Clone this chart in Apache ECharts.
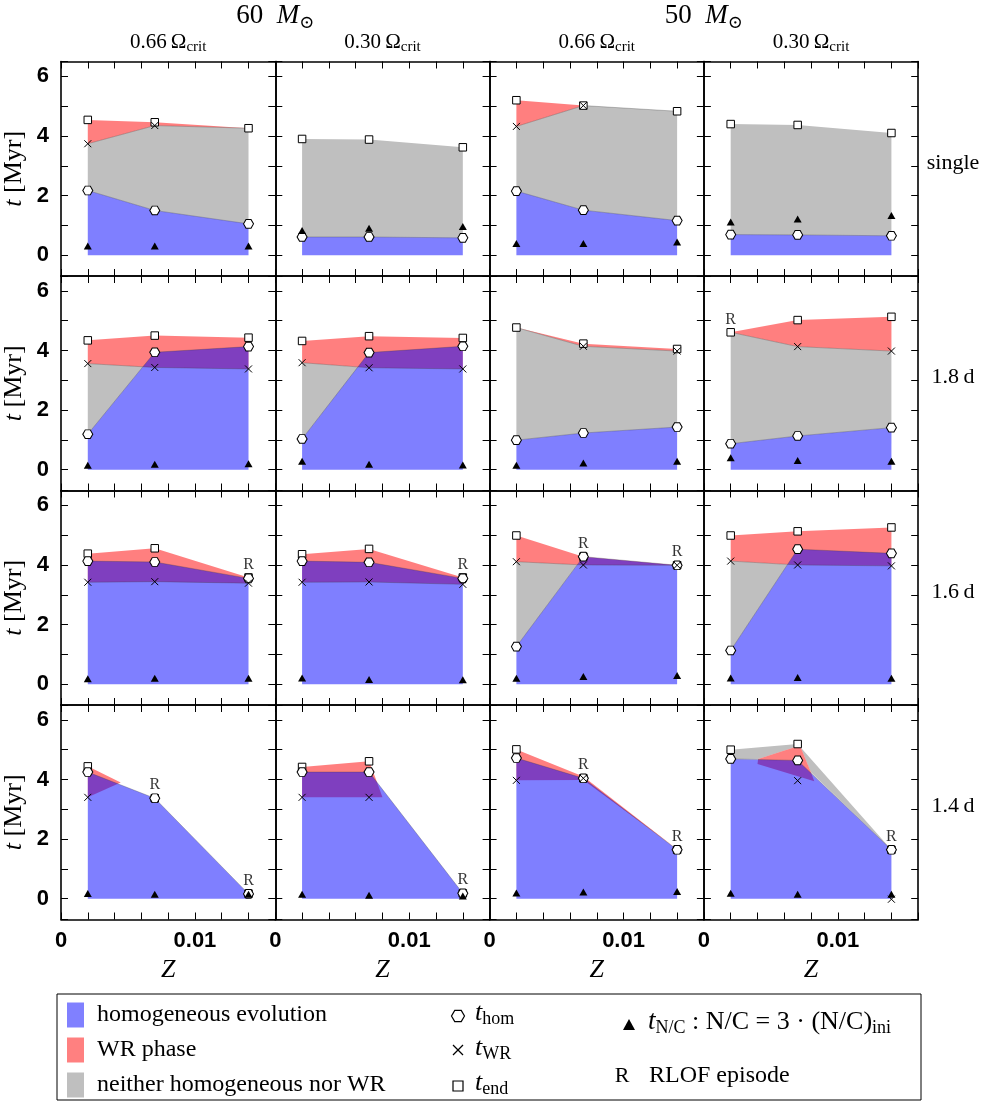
<!DOCTYPE html>
<html>
<head>
<meta charset="utf-8">
<script src="https://cdn.jsdelivr.net/npm/echarts@6/dist/echarts.min.js"></script>
<style>
html, body { margin: 0; padding: 0; background: #fff; }
#chart { width: 981px; height: 1105px; }
</style>
</head>
<body>
<div id="chart"></div>
<script>
// metallicities of the models
var zValues = [0.002, 0.007, 0.014];
var rowLabels = ['single', '1.8\u2009d', '1.6\u2009d', '1.4\u2009d'];
var massLabels = ['60', '50'];
var omegaLabels = ['0.66', '0.30', '0.66', '0.30'];

// [row][col][Z]  rows: single, 1.8d, 1.6d, 1.4d ; cols: 60/0.66, 60/0.30, 50/0.66, 50/0.30
var tHom = [
  [[2.17, 1.50, 1.05], [0.61, 0.61, 0.58], [2.15, 1.51, 1.16], [0.69, 0.68, 0.65]],
  [[1.19, 3.94, 4.13], [1.03, 3.93, 4.14], [0.99, 1.23, 1.43], [0.87, 1.13, 1.41]],
  [[4.13, 4.10, 3.55], [4.13, 4.09, 3.55], [1.26, 4.28, 3.99], [1.13, 4.53, 4.39]],
  [[4.25, 3.37, 0.16], [4.25, 4.25, 0.18], [4.72, 4.04, 1.64], [4.69, 4.64, 1.64]]
];
var tWR = [
  [[3.74, 4.35, null], [null, null, null], [4.32, 5.02, null], [null, null, null]],
  [[3.56, 3.43, 3.38], [3.59, 3.42, 3.38], [null, 4.14, 3.98], [null, 4.13, 3.98]],
  [[3.42, 3.44, 3.39], [3.42, 3.43, 3.35], [4.11, 4.00, 3.99], [4.13, 4.00, 3.97]],
  [[3.40, null, null], [3.40, 3.40, null], [3.97, 4.04, null], [null, 3.96, -0.02]]
];
var tEnd = [
  [[4.54, 4.46, 4.26], [3.90, 3.88, 3.62], [5.20, 5.02, 4.83], [4.40, 4.37, 4.10]],
  [[4.34, 4.50, 4.43], [4.32, 4.48, 4.42], [4.77, 4.23, 4.05], [4.61, 5.02, 5.13]],
  [[4.38, 4.56, 3.58], [4.36, 4.54, 3.58], [4.99, 4.28, 3.99], [4.99, 5.13, 5.26]],
  [[4.44, 3.37, 0.17], [4.42, 4.61, 0.18], [5.01, 4.04, 1.64], [5.00, 5.19, 1.64]]
];
var tNC = [
  [[0.31, 0.31, 0.31], [0.83, 0.90, 0.96], [0.39, 0.39, 0.44], [1.11, 1.21, 1.33]],
  [[0.15, 0.18, 0.20], [0.28, 0.18, 0.16], [0.15, 0.22, 0.28], [0.40, 0.31, 0.28]],
  [[0.18, 0.20, 0.20], [0.21, 0.16, 0.15], [0.20, 0.26, 0.29], [0.21, 0.22, 0.20]],
  [[0.17, 0.15, 0.15], [0.15, 0.11, 0.09], [0.19, 0.22, 0.24], [0.18, 0.15, 0.15]]
];
var rlof = [
  [[0, 0, 0], [0, 0, 0], [0, 0, 0], [0, 0, 0]],
  [[0, 0, 0], [0, 0, 0], [0, 0, 0], [1, 0, 0]],
  [[0, 0, 1], [0, 0, 1], [0, 1, 1], [0, 0, 0]],
  [[0, 1, 1], [0, 0, 1], [0, 1, 1], [0, 0, 1]]
];
// 1.4 d row: outlines of the WR phase and of the "neither" area, [Z, t]
var wrShapeRow4 = [
  [[0.002, 3.40], [0.002, 4.44], [0.00446, 3.90]],
  [[0.002, 3.40], [0.002, 4.42], [0.007, 4.61], [0.00754, 3.97], [0.008, 3.40]],
  [[0.002, 3.97], [0.002, 5.01], [0.007, 4.10], [0.014, 1.66], [0.007, 3.98]],
  [[0.00405, 4.69], [0.00717, 5.14], [0.00799, 4.24], [0.00824, 3.94], [0.0040, 4.52]]
];
var grayShapeRow4 = [null, null, null,
  [[0.002, 4.69], [0.002, 5.00], [0.007, 5.19], [0.014, 1.64], [0.00799, 4.24], [0.00717, 5.14], [0.00405, 4.685]]
];

var SERIF = 'Liberation Serif, DejaVu Serif, serif';
var SANS = 'Liberation Sans, Arial, sans-serif';
var HEX = 'path://M0,43.3L25,0L75,0L100,43.3L75,86.6L25,86.6Z';
var CROSS = 'path://M0,0L10,10M10,0L0,10';

var L0 = 61, T0 = 61.5, W = 214.3, H = 214.5;

// area between two lines (lower below upper), split where they cross
function betweenLines(lower, upper) {
  var top = [], bot = [];
  for (var i = 0; i < zValues.length; i++) {
    top.push([zValues[i], upper[i]]);
    bot.push([zValues[i], Math.min(lower[i], upper[i])]);
    if (i < zValues.length - 1) {
      var d0 = upper[i] - lower[i], d1 = upper[i + 1] - lower[i + 1];
      if (d0 * d1 < 0) {
        var f = d0 / (d0 - d1);
        var z = zValues[i] + f * (zValues[i + 1] - zValues[i]);
        var y = upper[i] + f * (upper[i + 1] - upper[i]);
        top.push([z, y]);
        bot.push([z, y]);
      }
    }
  }
  return top.concat(bot.reverse());
}

function shadeItem(r, c) {
  return function (params, api) {
    var hom = tHom[r][c], end = tEnd[r][c], wr = tWR[r][c];
    var low = zValues.map(function (z, i) { return wr[i] == null ? end[i] : Math.min(wr[i], end[i]); });
    var band, gray;
    if (r === 3) {
      band = wrShapeRow4[c];
      gray = grayShapeRow4[c];
    } else {
      band = zValues.map(function (z, i) { return [z, end[i]]; })
        .concat(zValues.map(function (z, i) { return [z, low[i]]; }).reverse());
      gray = betweenLines(hom, low);
    }
    var blueTop = zValues.map(function (z, i) { return [z, hom[i]]; });
    var blue = [[zValues[0], 0]].concat(blueTop, [[zValues[2], 0]]);
    var px = function (pts) { return pts.map(function (v) { return api.coord(v); }); };
    var edge = { stroke: 'rgba(60,60,60,0.5)', lineWidth: 0.6, fill: null };
    var kids = [];
    if (gray) kids.push({ type: 'polygon', shape: { points: px(gray) }, style: { fill: '#bfbfbf' } });
    if (band) kids.push({ type: 'polygon', shape: { points: px(band) }, style: { fill: 'rgba(255,0,0,0.5)' } });
    kids.push({ type: 'polygon', shape: { points: px(blue) }, style: { fill: 'rgba(0,0,255,0.5)' } });
    kids.push({ type: 'polyline', shape: { points: px(blueTop) }, style: edge });
    if (r < 3) {
      for (var i = 0; i < 2; i++) {
        if (wr[i] != null || wr[i + 1] != null) {
          kids.push({ type: 'polyline', shape: { points: px([[zValues[i], low[i]], [zValues[i + 1], low[i + 1]]]) }, style: edge });
        }
      }
    }
    return { type: 'group', children: kids };
  };
}

function pts(arr) {
  var out = [];
  for (var i = 0; i < zValues.length; i++) if (arr[i] != null) out.push([zValues[i], arr[i]]);
  return out;
}

var grids = [], xAxes = [], yAxes = [], series = [];
var frame = { show: true, onZero: false, lineStyle: { color: '#000', width: 1.6 } };
var tick = { show: true, inside: true, length: 7, lineStyle: { color: '#000', width: 1 } };

for (var r = 0; r < 4; r++) {
  for (var c = 0; c < 4; c++) {
    var gi = r * 4 + c;
    grids.push({ left: L0 + c * W, top: T0 + r * H, width: W, height: H });
    var xb = {
      type: 'value', gridIndex: gi, position: 'bottom', min: 0, max: 0.016, interval: 0.002,
      axisLine: frame, axisTick: tick, splitLine: { show: false },
      axisLabel: {
        show: r === 3, margin: 10, color: '#000', fontFamily: SANS, fontWeight: 'bold', fontSize: 22,
        formatter: function (v) { return Math.abs(v) < 1e-9 ? '0' : (Math.abs(v - 0.01) < 1e-9 ? '0.01' : ''); }
      }
    };
    if (r === 3) {
      xb.name = 'Z';
      xb.nameLocation = 'middle';
      xb.nameGap = 38;
      xb.nameTextStyle = { fontFamily: SERIF, fontStyle: 'italic', fontSize: 26, color: '#000' };
    }
    xAxes.push(xb);
    xAxes.push({
      type: 'value', gridIndex: gi, position: 'top', min: 0, max: 0.016, interval: 0.002,
      axisLine: frame, axisTick: tick, splitLine: { show: false }, axisLabel: { show: false }
    });
    var yl = {
      type: 'value', gridIndex: gi, position: 'left', min: -0.7, max: 6.5, splitNumber: 7,
      axisLine: frame, axisTick: tick, splitLine: { show: false },
      axisLabel: {
        show: c === 0, margin: 12, color: '#000', fontFamily: SANS, fontWeight: 'bold', fontSize: 22,
        formatter: function (v) {
          var n = Math.round(v);
          return (Math.abs(v - n) < 1e-6 && n >= 0 && n % 2 === 0) ? String(n) : '';
        }
      }
    };
    if (c === 0) {
      yl.name = '{i|t} [Myr]';
      yl.nameLocation = 'middle';
      yl.nameRotate = 90;
      yl.nameGap = 34;
      yl.nameTextStyle = { fontFamily: SERIF, fontSize: 26, color: '#000', rich: { i: { fontFamily: SERIF, fontSize: 26, fontStyle: 'italic' } } };
    }
    yAxes.push(yl);
    yAxes.push({
      type: 'value', gridIndex: gi, position: 'right', min: -0.7, max: 6.5, splitNumber: 7,
      axisLine: frame, axisTick: tick, splitLine: { show: false }, axisLabel: { show: false }
    });

    var xi = gi * 2, yi = gi * 2;
    series.push({ type: 'custom', xAxisIndex: xi, yAxisIndex: yi, z: 1, silent: true, data: [[0.002, 0]], renderItem: shadeItem(r, c) });
    series.push({
      type: 'scatter', xAxisIndex: xi, yAxisIndex: yi, z: 3, silent: true, symbol: 'rect', symbolSize: 7.5,
      itemStyle: { color: '#fff', borderColor: '#000', borderWidth: 1, opacity: 1 }, data: pts(tEnd[r][c])
    });
    series.push({
      type: 'scatter', xAxisIndex: xi, yAxisIndex: yi, z: 4, silent: true, symbol: HEX, symbolSize: [10, 8.7],
      itemStyle: { color: '#fff', borderColor: '#000', borderWidth: 1, opacity: 1 }, data: pts(tHom[r][c])
    });
    series.push({
      type: 'scatter', xAxisIndex: xi, yAxisIndex: yi, z: 5, silent: true, symbol: CROSS, symbolSize: 7,
      itemStyle: { color: 'rgba(0,0,0,0)', borderColor: '#000', borderWidth: 1, opacity: 1 }, data: pts(tWR[r][c])
    });
    series.push({
      type: 'scatter', xAxisIndex: xi, yAxisIndex: yi, z: 6, silent: true, symbol: 'triangle', symbolSize: [8, 7],
      itemStyle: { color: '#000', opacity: 1 }, data: pts(tNC[r][c])
    });
    var rData = [];
    for (var k = 0; k < 3; k++) {
      if (rlof[r][c][k]) rData.push([zValues[k], Math.max(tEnd[r][c][k], tHom[r][c][k])]);
    }
    if (rData.length) {
      series.push({
        type: 'scatter', xAxisIndex: xi, yAxisIndex: yi, z: 7, silent: true, symbolSize: 8,
        itemStyle: { color: 'rgba(0,0,0,0)' }, data: rData,
        label: { show: true, formatter: 'R', position: 'top', distance: 1, fontFamily: SERIF, fontSize: 16, color: '#000' }
      });
    }
  }
}

var graphics = [];
function text(x, y, str, opts) {
  var st = { text: str, x: x, y: y, fill: '#000', textAlign: opts.align || 'left', textVerticalAlign: 'middle', font: opts.font || ('22px ' + SERIF) };
  if (opts.rich) st.rich = opts.rich;
  graphics.push({ type: 'text', silent: true, style: st });
}
var subRich = function (main, sub) {
  return {
    n: { fontFamily: SERIF, fontSize: main, lineHeight: main + 5, verticalAlign: 'middle' },
    i: { fontFamily: SERIF, fontSize: main, fontStyle: 'italic', lineHeight: main + 5, verticalAlign: 'middle' },
    s: { fontFamily: SERIF, fontSize: sub, lineHeight: sub - 1, verticalAlign: 'bottom' }
  };
};

// column headers
for (var m = 0; m < 2; m++) {
  text(L0 + (2 * m + 1) * W, 16, '{n|' + massLabels[m] + '  }{i|M}{s|\u2299}', { align: 'center', rich: subRich(27, 18) });
}
for (var c2 = 0; c2 < 4; c2++) {
  text(L0 + (c2 + 0.5) * W, 42, '{n|' + omegaLabels[c2] + '\u2009\u03A9}{s|crit}', { align: 'center', rich: subRich(21, 15) });
}
for (var r2 = 0; r2 < 4; r2++) {
  text(953, T0 + (r2 + 0.5) * H - 6, rowLabels[r2], { align: 'center', font: '22px ' + SERIF });
}

// legend
graphics.push({ type: 'rect', silent: true, shape: { x: 57, y: 994, width: 864, height: 106 }, style: { fill: 'none', stroke: '#000', lineWidth: 1 } });
var swatchColors = ['#8080ff', '#ff8080', '#bfbfbf'];
var areaNames = ['homogeneous evolution', 'WR phase', 'neither homogeneous nor WR'];
for (var q = 0; q < 3; q++) {
  var yc = 1015 + q * 35;
  graphics.push({ type: 'rect', silent: true, shape: { x: 67, y: yc - 12.5, width: 17, height: 25 }, style: { fill: swatchColors[q] } });
  text(97, yc, areaNames[q], { font: '24px ' + SERIF });
}
var hx = 458;
var hexPts = [];
for (var a = 0; a < 6; a++) {
  var ang = Math.PI / 3 * a;
  hexPts.push([hx + 6.5 * Math.cos(ang), 1016 + 6.5 * Math.sin(ang)]);
}
graphics.push({ type: 'polygon', silent: true, shape: { points: hexPts }, style: { fill: '#fff', stroke: '#000', lineWidth: 1.2 } });
graphics.push({ type: 'polyline', silent: true, shape: { points: [[hx - 5, 1045], [hx + 5, 1055]] }, style: { stroke: '#000', lineWidth: 1.2, fill: null } });
graphics.push({ type: 'polyline', silent: true, shape: { points: [[hx + 5, 1045], [hx - 5, 1055]] }, style: { stroke: '#000', lineWidth: 1.2, fill: null } });
graphics.push({ type: 'rect', silent: true, shape: { x: hx - 5, y: 1081, width: 10, height: 10 }, style: { fill: '#fff', stroke: '#000', lineWidth: 1.2 } });
var tNames = ['hom', 'WR', 'end'];
for (var q2 = 0; q2 < 3; q2++) {
  text(475, 1013 + q2 * 35, '{i|t}{s|' + tNames[q2] + '}', { rich: subRich(26, 18) });
}
graphics.push({ type: 'polygon', silent: true, shape: { points: [[623, 1030], [635, 1030], [629, 1019]] }, style: { fill: '#000' } });
text(648, 1022, '{i|t}{s|N/C}{n| : N/C = 3 \u00B7 (N/C)}{s|ini}', {
  rich: {
    n: { fontFamily: SERIF, fontSize: 26, lineHeight: 30, verticalAlign: 'middle' },
    i: { fontFamily: SERIF, fontSize: 27, fontStyle: 'italic', lineHeight: 30, verticalAlign: 'middle' },
    s: { fontFamily: SERIF, fontSize: 18, lineHeight: 16, verticalAlign: 'bottom' }
  }
});
text(622, 1076, 'R', { align: 'center', font: '22px ' + SERIF });
text(649, 1076, 'RLOF episode', { font: '24px ' + SERIF });

var chart = echarts.init(document.getElementById('chart'), null, { renderer: 'canvas' });
chart.setOption({
  animation: false,
  backgroundColor: '#fff',
  grid: grids,
  xAxis: xAxes,
  yAxis: yAxes,
  series: series,
  graphic: { elements: graphics }
});
</script>
</body>
</html>
